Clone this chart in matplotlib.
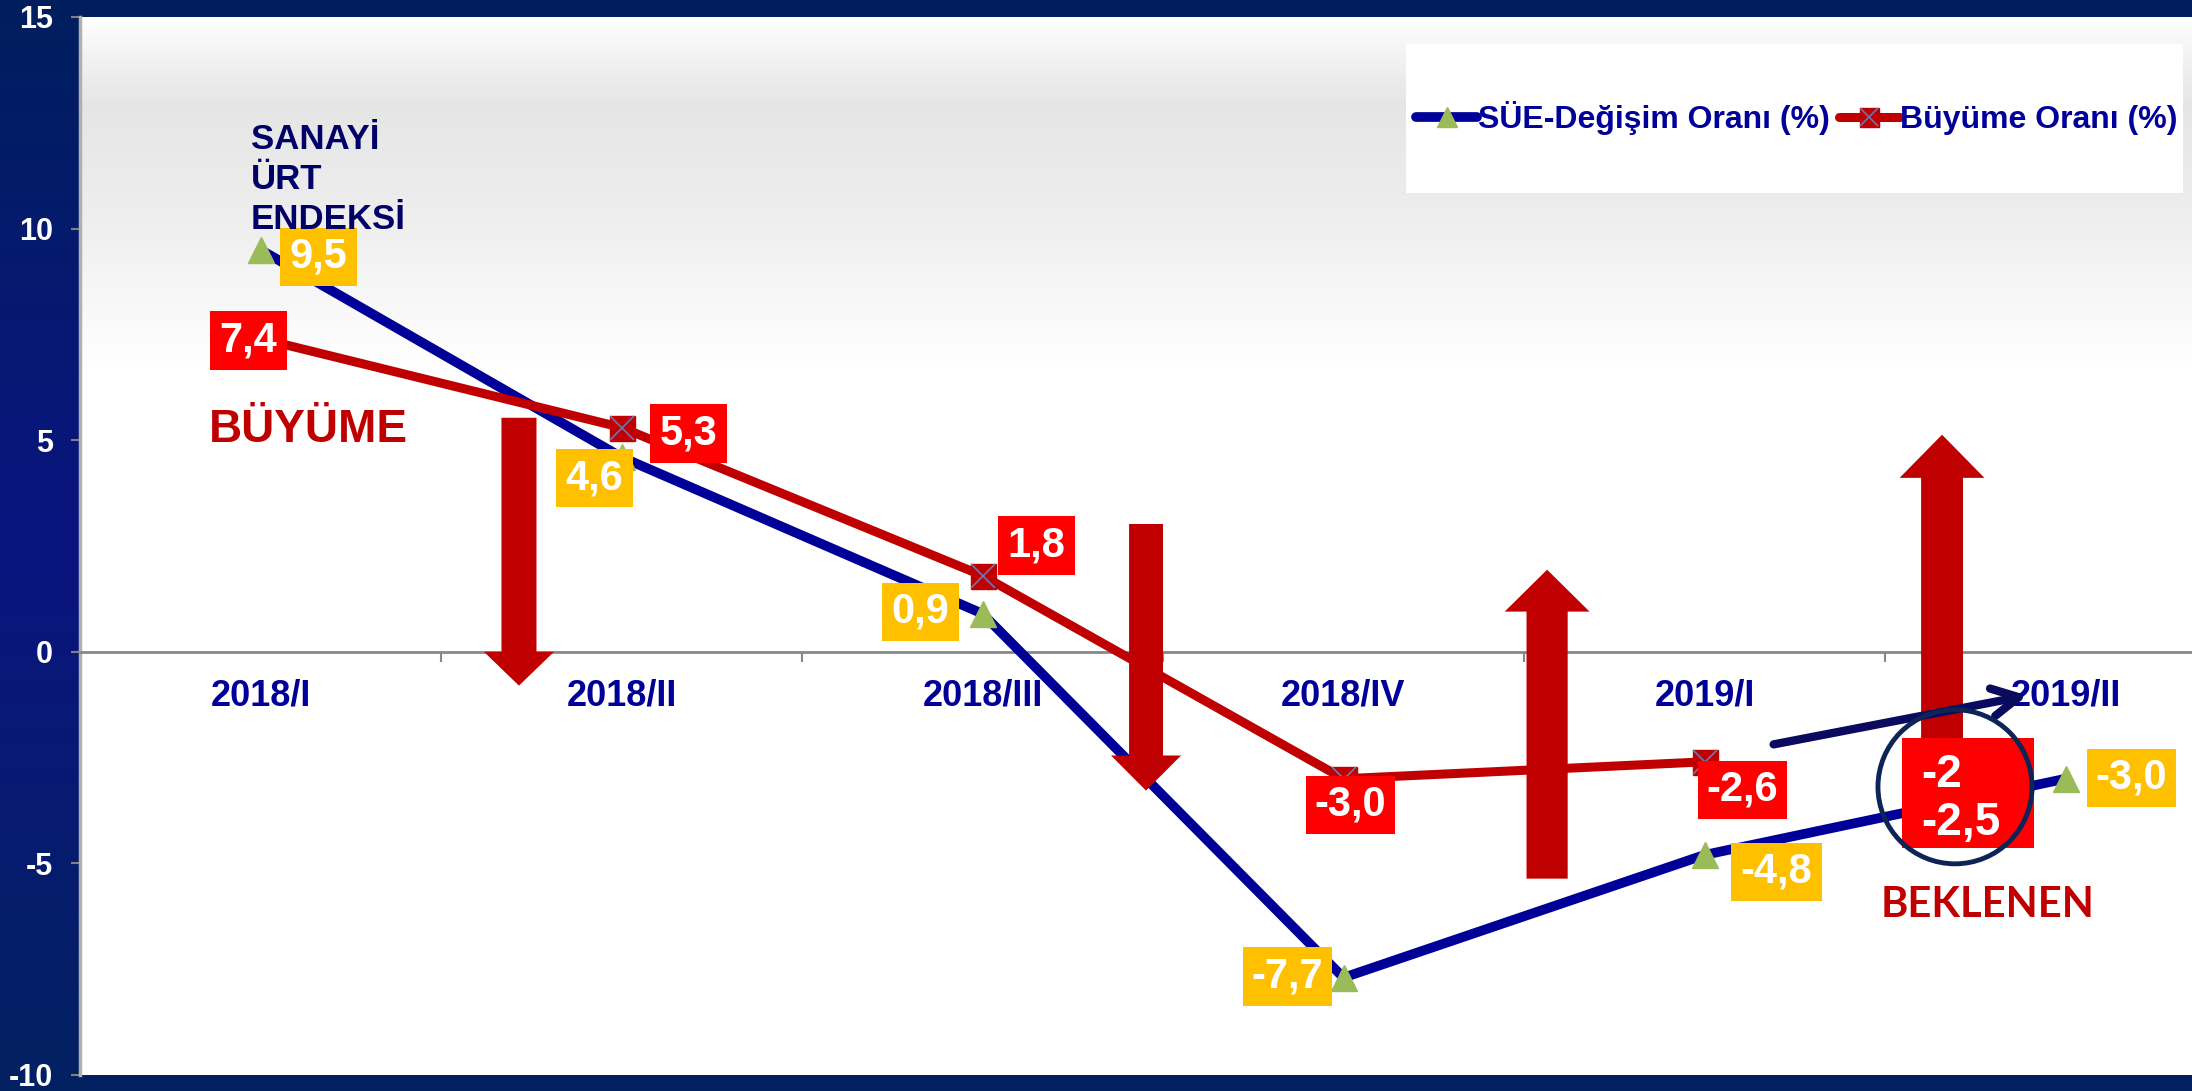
import numpy as np
import matplotlib
matplotlib.use("Agg")
import matplotlib.pyplot as plt
from matplotlib.patches import Rectangle, Ellipse

plt.rcParams['font.family'] = ['Liberation Sans', 'DejaVu Sans']
plt.rcParams['axes.unicode_minus'] = False

# --- veriler ---
donemler = ["2018/I", "2018/II", "2018/III", "2018/IV", "2019/I", "2019/II"]
sue_degisim = [9.5, 4.6, 0.9, -7.7, -4.8, -3.0]     # SÜE-Değişim Oranı (%)
buyume = [7.4, 5.3, 1.8, -3.0, -2.6]                # Büyüme Oranı (%)
beklenen_etiket = "-2\n-2,5"
y_ticks = [-10, -5, 0, 5, 10, 15]

# etiket kutularının noktaya göre kayması (piksel)
sue_ofset = [(58, -7), (-27, -21), (-62, 2), (-56, 1), (72, -17), (66, 1)]
buyume_ofset = [(-12, -2), (67, -6), (54, 30), (7, -26), (38, -28)]

# büyük kırmızı oklar: x, başlangıç y, bitiş y, gövde, baş genişliği, baş uzunluğu
oklar = [
    (0.716, 5.53, -0.80, 0.097, 0.194, 0.80),
    (2.453, 3.02, -3.28, 0.094, 0.194, 0.83),
    (3.564, -5.36, 1.94, 0.114, 0.235, 0.99),
    (4.658, -2.08, 5.13, 0.116, 0.235, 1.02),
]

LACIVERT = "#000099"
KOYU_KIRMIZI = "#C00000"

fig = plt.figure(figsize=(21.92, 10.91), dpi=100)

# arka plan (lacivert gradyan)
bg = fig.add_axes([0, 0, 1, 1], zorder=-10)
t = np.linspace(0, 1, 256)
r = np.interp(t, [0, 0.5, 1], [0.00, 0.04, 0.01])
g = np.interp(t, [0, 0.5, 1], [0.12, 0.08, 0.13])
b = np.interp(t, [0, 0.5, 1], [0.37, 0.50, 0.38])
bg.imshow(np.stack([r, g, b], axis=-1)[:, None, :], aspect='auto', extent=(0, 1, 0, 1))
bg.axis('off')

ax = fig.add_axes([80 / 2192, 16 / 1091, 2166 / 2192, 1058 / 1091])
x = np.arange(len(donemler))

# eksen çizgileri (önce konum, sonra etiketler)
ax.spines['bottom'].set_position(('data', 0))
ax.spines['bottom'].set_color('#888888')
ax.spines['bottom'].set_linewidth(2)
ax.spines['left'].set_color('#b0b0b0')
ax.spines['left'].set_linewidth(2.5)
ax.spines['top'].set_visible(False)
ax.spines['right'].set_visible(False)

# çizim alanı gri-beyaz gradyan
gv = np.interp(t, [0, 0.02, 0.08, 0.18, 0.33, 1], [1.0, 0.97, 0.90, 0.93, 1.0, 1.0])
ax.imshow(np.stack([gv, gv, gv], axis=-1)[:, None, :], aspect='auto',
          extent=(-0.5, 5.5, -10, 15), zorder=0)

sue_line, = ax.plot(x, sue_degisim, color=LACIVERT, lw=7, marker='^', ms=19,
                    mfc='#9BBB59', mec='#9BBB59', zorder=3, solid_capstyle='round')
buy_line, = ax.plot(x[:len(buyume)], buyume, color=KOYU_KIRMIZI, lw=6.5, marker='s', ms=18,
                    mfc=KOYU_KIRMIZI, mec=KOYU_KIRMIZI, zorder=4, solid_capstyle='round')
buy_x, = ax.plot(x[:len(buyume)], buyume, ls='none', marker='x', ms=17,
                 mec='#6A78B8', mew=1.2, zorder=4.5)

for xa, y0, y1, w, hw, hl in oklar:
    ax.arrow(xa, y0, 0, y1 - y0, width=w, head_width=hw, head_length=hl,
             length_includes_head=True, fc=KOYU_KIRMIZI, ec='none', zorder=5)

def fmt(v):
    return f"{v:.1f}".replace('.', ',')

for xi, v, (dx, dy) in zip(x, sue_degisim, sue_ofset):
    ax.annotate(fmt(v), (xi, v), xytext=(dx, dy), textcoords='offset pixels',
                ha='center', va='center', fontsize=30, fontweight='bold', color='white',
                bbox=dict(boxstyle='square,pad=0.22', fc='#FFC000', ec='none'), zorder=6)
for xi, v, (dx, dy) in zip(x, buyume, buyume_ofset):
    ax.annotate(fmt(v), (xi, v), xytext=(dx, dy), textcoords='offset pixels',
                ha='center', va='center', fontsize=30, fontweight='bold', color='white',
                bbox=dict(boxstyle='square,pad=0.22', fc='#FF0000', ec='none'), zorder=6)

# beklenen kutusu, ok ve daire
ax.add_patch(Rectangle((4.547, -4.63), 0.366, 2.60, fc='#FF0000', ec='none', zorder=6))
ax.text(4.600, -3.48, beklenen_etiket, ha='left', va='center', fontsize=33,
        fontweight='bold', color='white', linespacing=1.12, zorder=7)
ax.annotate('', xy=(4.902, -1.02), xytext=(4.184, -2.20),
            arrowprops=dict(arrowstyle='->,head_length=1.9,head_width=1.0',
                            color='#0a0a5e', lw=6), zorder=7)
ax.add_patch(Ellipse((4.694, -3.19), 0.427, 3.64, fill=False, ec='#0d2456', lw=3.5, zorder=8))

ax.text(-0.026, 12.5, "SANAYİ\nÜRT\nENDEKSİ", ha='left', va='top', fontsize=25,
        fontweight='bold', color='#000066', linespacing=1.28, zorder=6)
ax.text(0.132, 5.24, "BÜYÜME", ha='center', va='center', fontsize=33,
        fontweight='bold', color=KOYU_KIRMIZI, zorder=6)
ax.text(4.785, -5.98, "BEKLENEN", ha='center', va='center', fontsize=30,
        fontweight='bold', color=KOYU_KIRMIZI, family=['Lato', 'Liberation Sans'], zorder=6)

# eksenler
ax.set_xlim(-0.5, 5.5)
ax.set_ylim(-10, 15)
ax.set_yticks(y_ticks)
ax.set_yticklabels([str(v) for v in y_ticks], color='white', fontsize=22, fontweight='bold')
ax.tick_params(axis='y', length=6.5, width=1.5, color='#808080', pad=13)
ax.set_xticks(x)
ax.set_xticklabels(donemler, color=LACIVERT, fontsize=26, fontweight='bold')
ax.set_xticks(x[:-1] + 0.5, minor=True)
ax.tick_params(axis='x', which='major', length=0, pad=19)
ax.tick_params(axis='x', which='minor', length=7, width=1.5, color='#888888')

# lejant
ax.add_patch(Rectangle((1406 / 2192, 1 - 193 / 1091), 777 / 2192, 149 / 1091,
                       transform=fig.transFigure, fc='white', ec='none', zorder=9, clip_on=False))
leg = ax.legend([sue_line, (buy_line, buy_x)], ["SÜE-Değişim Oranı (%)", "Büyüme Oranı (%)"],
                loc='center', bbox_to_anchor=(1797 / 2192, 1 - 118 / 1091),
                bbox_transform=fig.transFigure, ncol=2, frameon=False,
                prop=dict(size=23, weight='bold'), labelcolor=LACIVERT,
                handlelength=1.9, handletextpad=0.02, columnspacing=0.3,
                markerscale=0.76, borderpad=0, borderaxespad=0)
leg.set_zorder(10)

fig.savefig("out.png", dpi=100)
